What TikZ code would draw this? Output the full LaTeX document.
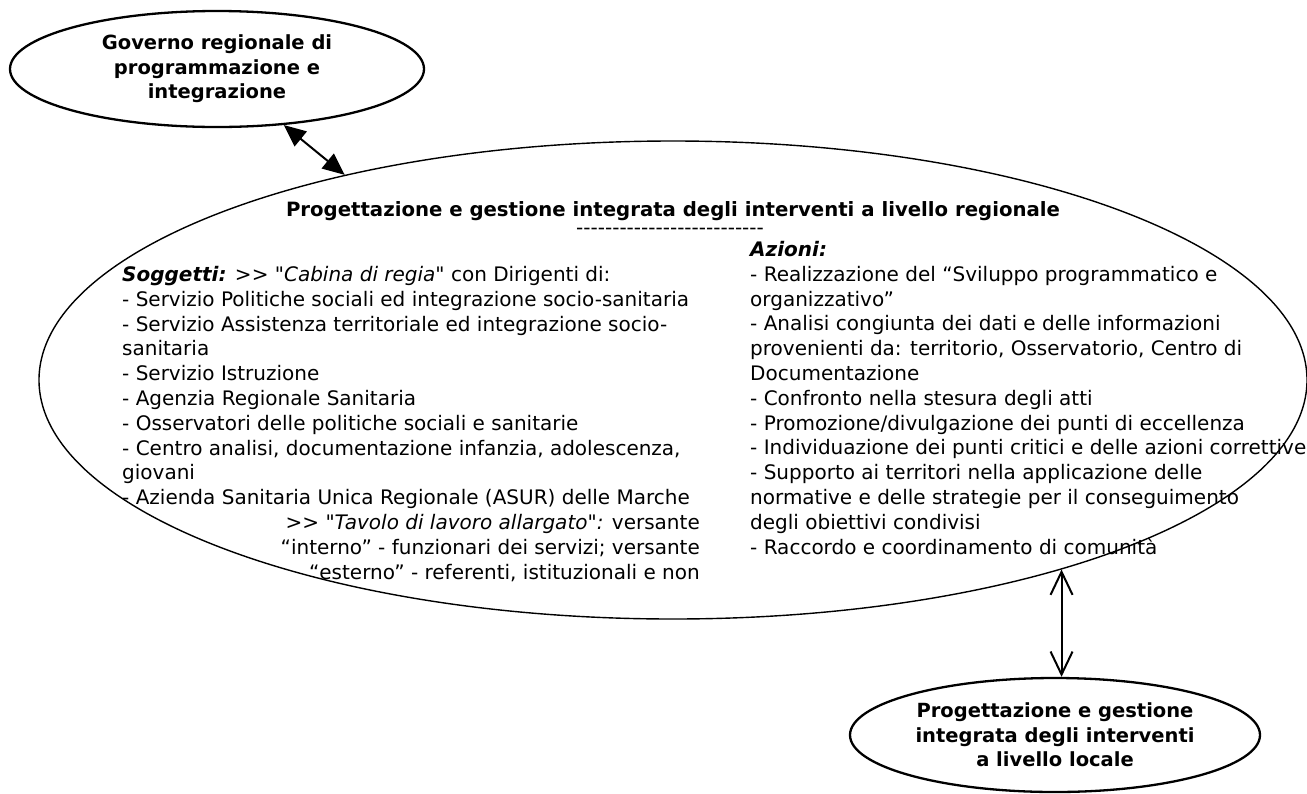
\documentclass[tikz,border=0pt]{standalone}
\usepackage{fontspec}
\setmainfont{DejaVu Sans}[Ligatures=TeXOff]
\usetikzlibrary{shapes,arrows.meta,positioning}

\tikzset{
  bubble/.style={draw, ellipse, line width=2.3pt, inner sep=0pt, align=center,
    font=\fontsize{19.5}{24.5}\selectfont\bfseries},
  bodytext/.style={inner sep=0pt, font=\fontsize{20}{24.8}\selectfont},
}

\begin{document}
\begin{tikzpicture}[x=1pt,y=-1pt]
    \useasboundingbox (0,0) rectangle (1307,793);
    \node [bubble, minimum width=414pt, minimum height=116pt] (gov) at (217,69)
        {Governo regionale di\\programmazione e\\integrazione};
    \node [draw, ellipse, line width=1.4pt, inner sep=0pt, minimum width=1268pt,
        minimum height=478pt] (main) at (673,380) {};
    \node [bubble, minimum width=410pt, minimum height=114pt] (loc) at (1055,735)
        {Progettazione e gestione\\integrata degli interventi\\a livello locale};
    %%%%%%%%%
    \node (head) [bodytext, anchor=base, font=\fontsize{19.7}{24.8}\selectfont\bfseries] at (673,216)
        {Progettazione e gestione integrata degli interventi a livello regionale};
    \node (sep) [bodytext, anchor=base] at (670,234) {--------------------------};
    %%%%%%%%%
    \node (sogg) [bodytext, align=left, anchor=north west] at (122,266)
        {\textbf{\textit{Soggetti:}} >> \textit{"Cabina di regia"} con Dirigenti di:\\
         - Servizio Politiche sociali ed integrazione socio-sanitaria\\
         - Servizio Assistenza territoriale ed integrazione socio-\\
         sanitaria\\
         - Servizio Istruzione\\
         - Agenzia Regionale Sanitaria\\
         - Osservatori delle politiche sociali e sanitarie\\
         - Centro analisi, documentazione infanzia, adolescenza,\\
         giovani\\
         - Azienda Sanitaria Unica Regionale (ASUR) delle Marche};
    \node (tav) [bodytext, align=right, anchor=north east] at (700,514)
        {>> \textit{"Tavolo di lavoro allargato":} versante\\
         “interno” - funzionari dei servizi; versante\\
         “esterno” - referenti, istituzionali e non};
    \node (az) [bodytext, align=left, anchor=north west] at (750,241)
        {\textbf{\textit{Azioni:}}\\
         - Realizzazione del “Sviluppo programmatico e\\
         organizzativo”\\
         - Analisi congiunta dei dati e delle informazioni\\
         provenienti da: territorio, Osservatorio, Centro di\\
         Documentazione\\
         - Confronto nella stesura degli atti\\
         - Promozione/divulgazione dei punti di eccellenza\\
         - Individuazione dei punti critici e delle azioni correttive\\
         - Supporto ai territori nella applicazione delle\\
         normative e delle strategie per il conseguimento\\
         degli obiettivi condivisi\\
         - Raccordo e coordinamento di comunità};
    %%%%%%%%%
        \draw[{Triangle[length=22pt,width=19pt]}-{Triangle[length=22pt,width=19pt]}, line width=2pt]
            (gov.-40) -- (main.148);
        \draw[{Straight Barb[length=23pt,width=22pt]}-{Straight Barb[length=23pt,width=22pt]}, line width=2pt]
            (main.-26.3) -- (main.-26.3 |- loc.north);
\end{tikzpicture}
\end{document}
